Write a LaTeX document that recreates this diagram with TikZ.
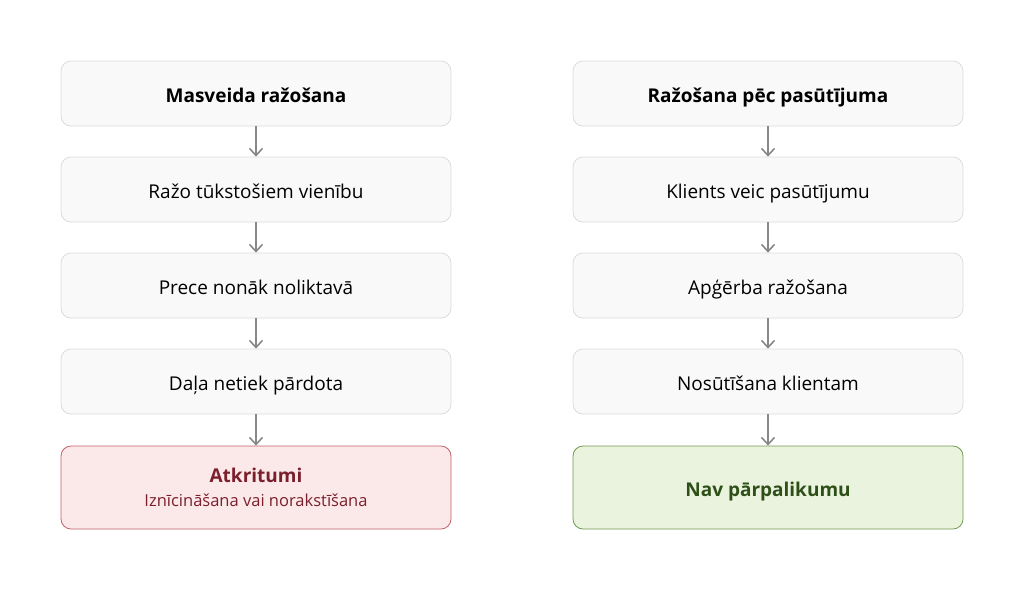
\documentclass[tikz,border=0pt]{standalone}
\usepackage{fontspec}
\setmainfont{Open Sans}
\usetikzlibrary{arrows.meta}

\definecolor{boxfill}{HTML}{F9F9F9}
\definecolor{boxline}{HTML}{DCDCDC}
\definecolor{arrowgray}{HTML}{888888}
\definecolor{wastefill}{HTML}{FBE9E9}
\definecolor{wasteline}{HTML}{C0606A}
\definecolor{wastetext}{HTML}{7A1F2B}
\definecolor{okfill}{HTML}{EAF3DE}
\definecolor{okline}{HTML}{6E9A50}
\definecolor{oktext}{HTML}{2E5018}

\begin{document}
\begin{tikzpicture}[x=1pt,y=-1pt,>={Straight Barb[length=7pt,width=13pt]},
stepbox/.style={rectangle, draw=boxline, line width=0.8pt, fill=boxfill, align=center, rounded corners=10pt, minimum width=390pt, minimum height=65pt, inner sep=0pt, text height=19pt, text depth=2pt, font=\fontsize{19}{23}\selectfont},
headbox/.style={stepbox, font=\fontsize{19}{23}\selectfont\bfseries},
waste/.style={stepbox, draw=wasteline, fill=wastefill, text=wastetext, minimum height=83pt, text height={}, text depth={}},
nowaste/.style={stepbox, draw=okline, fill=okfill, text=oktext, minimum height=83pt, font=\fontsize{19}{23}\selectfont\bfseries},
flow/.style={->, draw=arrowgray, line width=1.6pt}]

\useasboundingbox (0,0) rectangle (1024,590);

\draw (256,93.5) node[headbox] (M0) {Masveida ražošana};
\draw (256,189.5) node[stepbox] (M1) {Ražo tūkstošiem vienību};
\draw (256,285.5) node[stepbox] (M2) {Prece nonāk noliktavā};
\draw (256,381.5) node[stepbox] (M3) {Daļa netiek pārdota};
\draw (256,487.5) node[waste] (M4) {{\bfseries Atkritumi}\\[1pt]{\fontsize{16.5}{19}\selectfont Iznīcināšana vai norakstīšana}};

\draw (768,93.5) node[headbox] (P0) {Ražošana pēc pasūtījuma};
\draw (768,189.5) node[stepbox] (P1) {Klients veic pasūtījumu};
\draw (768,285.5) node[stepbox] (P2) {Apģērba ražošana};
\draw (768,381.5) node[stepbox] (P3) {Nosūtīšana klientam};
\draw (768,487.5) node[nowaste] (P4) {Nav pārpalikumu};

\draw[flow] (M0)--(M1);
\draw[flow] (M1)--(M2);
\draw[flow] (M2)--(M3);
\draw[flow] (M3)--(M4);

\draw[flow] (P0)--(P1);
\draw[flow] (P1)--(P2);
\draw[flow] (P2)--(P3);
\draw[flow] (P3)--(P4);

\end{tikzpicture}
\end{document}
